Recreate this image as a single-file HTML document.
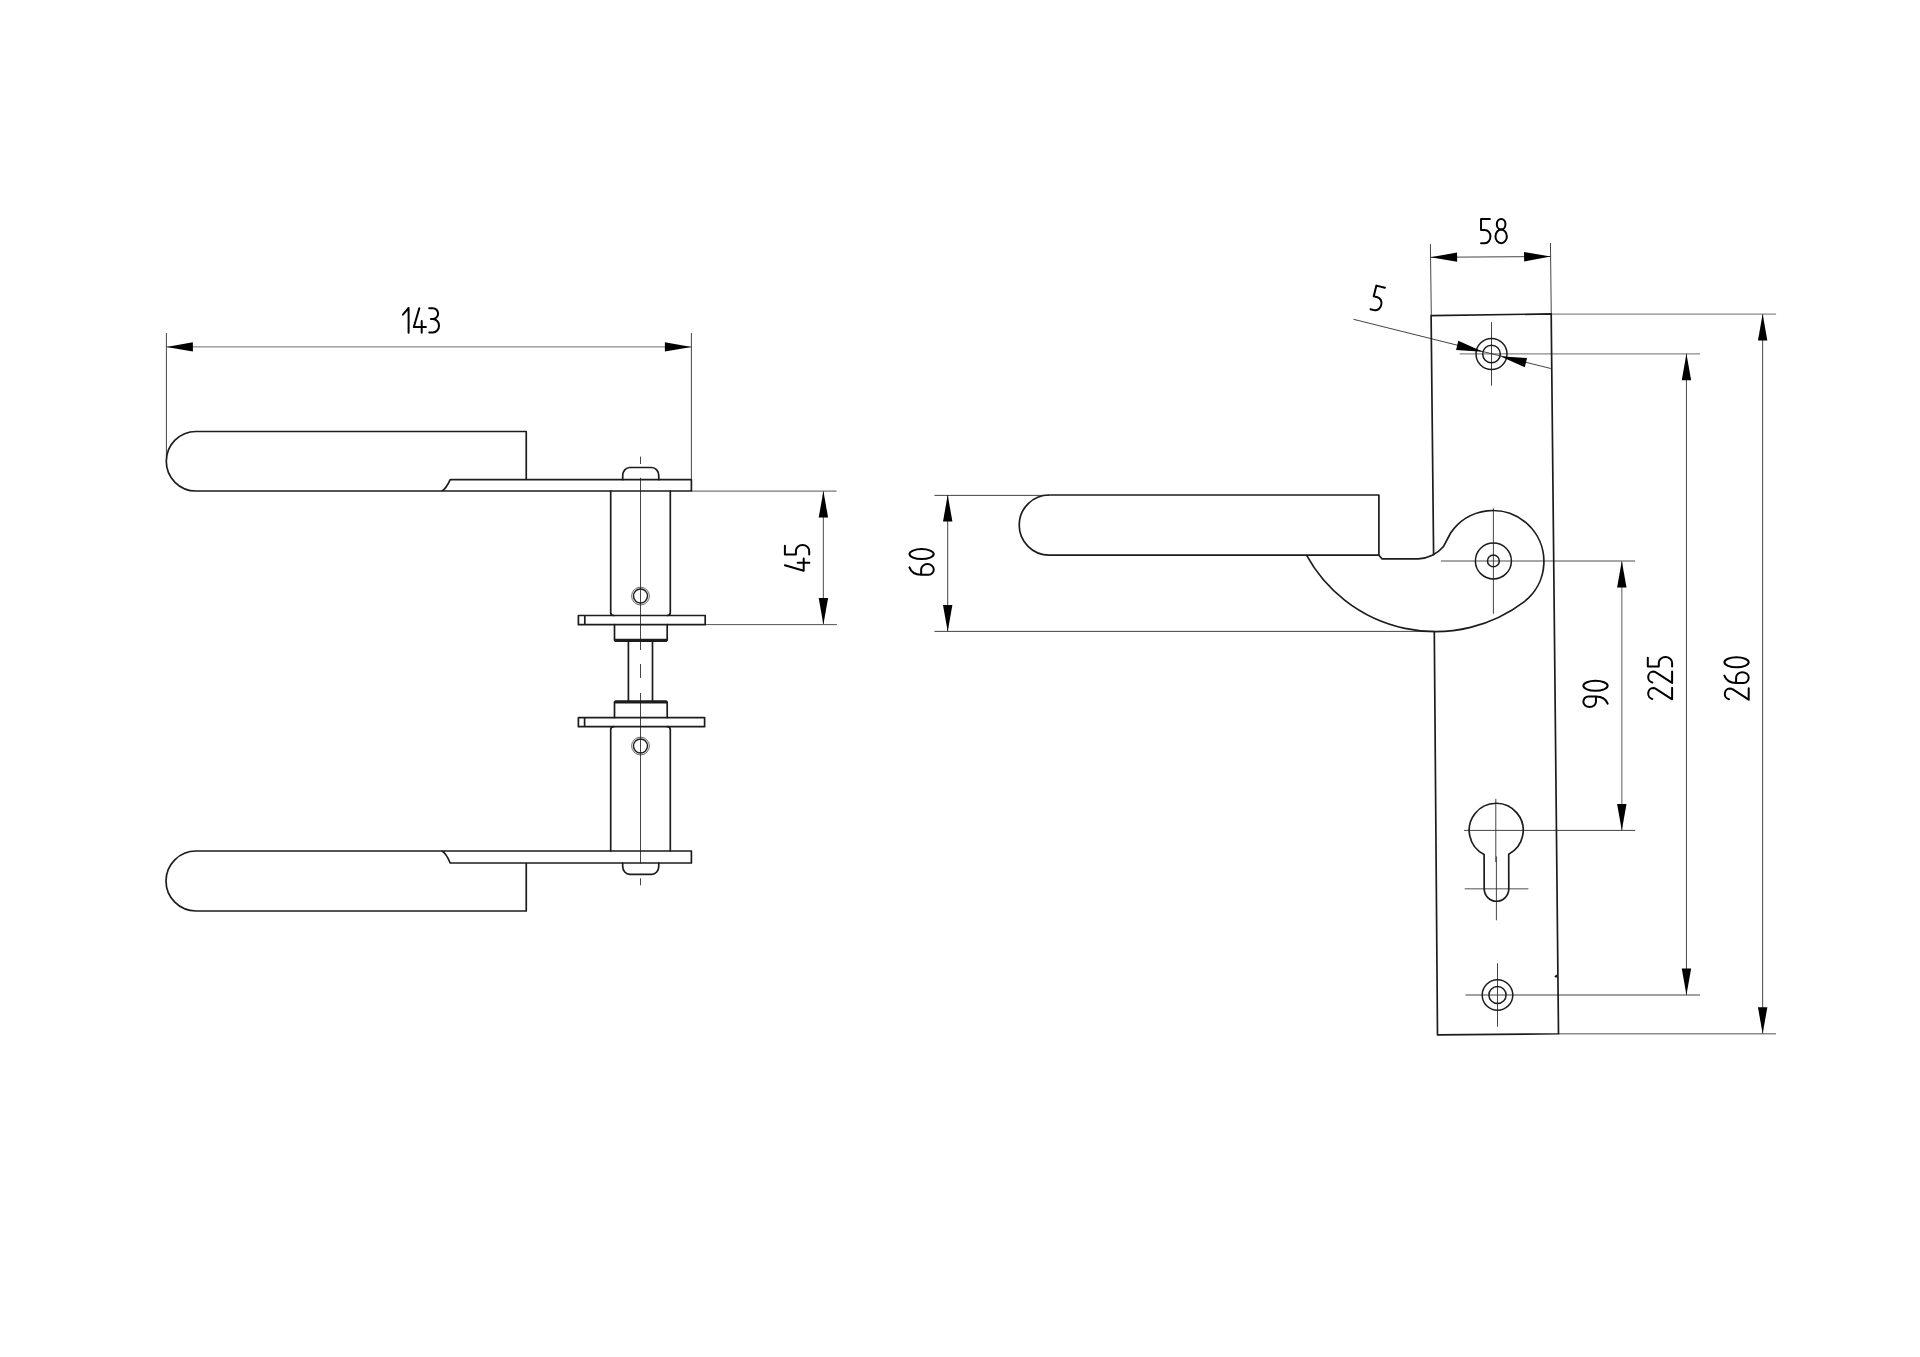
<!DOCTYPE html>
<html><head><meta charset="utf-8"><title>drawing</title>
<style>html,body{margin:0;padding:0;background:#fff;font-family:"Liberation Sans",sans-serif}svg{display:block}</style></head><body>
<svg width="1920" height="1357" viewBox="0 0 1920 1357">
<rect width="1920" height="1357" fill="#fff"/>
<g id="grey" stroke="#8a8a8a" stroke-width="1.4" fill="none">
<path d="M166.4,346.9 H691.4"/>
<path d="M691.4,491.1 H836.7 M705.2,624.6 H836.9" stroke="#555" stroke-width="1"/>
<path d="M1551.2,314.1 H1776.1"/>
<path d="M1459.7,353.9 H1700"/>
<path d="M1440.9,561 H1635.1"/>
<path d="M1464.7,888.75 H1528.4"/>
<path d="M1558.5,1033.75 H1776"/>
<path d="M1621.8,561 V830.4"/>
</g>
<g id="thin" stroke="#303030" stroke-width="0.9" fill="none">
<path d="M166.4,333 V456 M691.4,333 V479.5"/>
<path d="M823.4,491 V624.5" stroke="#6a6a6a" stroke-width="1.2"/>
<path d="M640.5,456.6 V464 M640.5,477.8 V650 M640.5,664 V678 M640.5,693 V863.4 M640.5,878.3 V885.3"/>
<path d="M934.4,495.4 H1049 M934.4,631.4 H1434 M947.7,495 V631.4"/>
<path d="M1430.4,244.1 L1431.3,315.6 M1550.45,243 L1551.25,314 M1430.6,257.3 L1550.6,256.5"/>
<path d="M1353.5,319.3 L1550.8,368.5"/>
<path d="M1491.5,322.1 V385.7"/>
<path d="M1493.4,508.3 V613.75"/>
<path d="M1464.1,830.4 H1635.2 M1495.8,798.8 V862 M1496.4,856.4 V920.3"/>
<path d="M1497.5,963.3 V1026.7 M1465.6,995 H1700"/>
<path d="M1686.45,353.7 V995 M1762.65,314.1 V1033.75" stroke="#484848" stroke-width="1"/>
</g>
<g stroke="#2a2a2a" stroke-width="0.7" fill="none"><circle cx="640.5" cy="596.1" r="8.9"/><circle cx="640.5" cy="746" r="8.9"/></g>
<g id="thick" stroke="#1c1c1c" stroke-width="1.7" fill="none" stroke-linecap="round" stroke-linejoin="round">
<path d="M526.25,479.7 V431.5 H196 A29.75,29.75 0 0 0 196,491 H691.4 V479.7 H450.2 Q446,489 441.9,491"/>
<path d="M622.7,479.7 V475.5 A7,8 0 0 1 629.7,467.5 H651.75 A7,8 0 0 1 658.75,475.5 V479.7"/>
<path d="M610.7,491 V612.5 Q610.7,615.5 613.7,615.5 M667.3,615.5 Q670.3,615.5 670.3,612.5 V491"/>
<path d="M578.4,615.5 H705.2 V624.7 H578.4 Z M584.8,615.5 V624.7"/>
<path d="M614.5,624.7 V640.1 L615.5,641.1 H666.2 L667.2,640.1 V624.7 M614.5,639.6 H667.2"/>
<path d="M628.4,641.1 V701 M652.5,641.1 V701"/>
<path d="M614.5,717.6 V702 L615.5,701 H666.2 L667.2,702 V717.6 M614.5,702.6 H667.2"/>
<path d="M578.4,717.6 H704.6 V726.7 H578.4 Z M584.6,717.6 V726.7"/>
<path d="M610.7,851 V729.7 Q610.7,726.7 613.7,726.7 M667.3,726.7 Q670.3,726.7 670.3,729.7 V851"/>
<path d="M526.25,863 V911 H196 A30,30 0 0 1 196,851 H691.4 V863 H450.2 Q446,853 441.9,851"/>
<path d="M622.7,863 V866.4 A7,8 0 0 0 629.7,874.4 H651.75 A7,8 0 0 0 658.75,866.4 V863"/>
</g>
<g stroke="#1c1c1c" stroke-width="1.4" fill="none"><circle cx="640.5" cy="596" r="7"/><circle cx="640.5" cy="746" r="7"/></g>
<g id="thickR" stroke="#1c1c1c" stroke-width="1.7" fill="none" stroke-linecap="round" stroke-linejoin="round">
<path d="M1433.6,554.7 L1431.1,315.6 L1551.2,313.9 L1558.5,1033.75 L1437.5,1034.8 L1434.3,631.7"/>
<path d="M1378.9,555.2 H1049.3 A30.1,30.1 0 0 1 1049.3,495 H1378.9 V555.2 L1382.1,558.9 H1418.1 C1428,558.9 1437.5,553.5 1443.3,546.8 L1450.6,533 A51,51 0 1 1 1524.4,601.6 A146.93,146.93 0 0 1 1306.5,555.2"/>
<path d="M1484.1,854.4 A27,27 0 1 1 1508.7,854.2 L1508.8,888.75 A12.3,12.5 0 0 1 1484.2,888.75 Z"/>
</g>
<g stroke="#1c1c1c" stroke-width="1.5" fill="none">
<circle cx="1491.5" cy="354" r="15.5"/><circle cx="1491.5" cy="354" r="8.8"/>
<circle cx="1493.4" cy="560.9" r="18"/><circle cx="1493.4" cy="560.9" r="5.9"/>
<circle cx="1497.5" cy="995" r="15.3"/><circle cx="1497.5" cy="995" r="8.6"/>
<path d="M1554.8,976.9 L1556.3,975.8 V977.5"/>
</g>
<path transform="translate(166.4,346.9) rotate(0)" d="M0,0 L26.5,-4.7 L26.5,4.7 Z" fill="#000"/>
<path transform="translate(691.4,346.9) rotate(180)" d="M0,0 L26.5,-4.7 L26.5,4.7 Z" fill="#000"/>
<path transform="translate(823.4,491.1) rotate(90)" d="M0,0 L26.5,-4.7 L26.5,4.7 Z" fill="#000"/>
<path transform="translate(823.4,624.5) rotate(-90)" d="M0,0 L26.5,-4.7 L26.5,4.7 Z" fill="#000"/>
<path transform="translate(947.7,495) rotate(90)" d="M0,0 L26.5,-4.7 L26.5,4.7 Z" fill="#000"/>
<path transform="translate(947.7,631.4) rotate(-90)" d="M0,0 L26.5,-4.7 L26.5,4.7 Z" fill="#000"/>
<path transform="translate(1430.6,257.3) rotate(-0.4)" d="M0,0 L26.5,-4.7 L26.5,4.7 Z" fill="#000"/>
<path transform="translate(1550.6,256.5) rotate(179.6)" d="M0,0 L26.5,-4.7 L26.5,4.7 Z" fill="#000"/>
<path transform="translate(1482.9,351.8) rotate(194)" d="M0,0 L26.5,-4.7 L26.5,4.7 Z" fill="#000"/>
<path transform="translate(1500.2,356.2) rotate(14)" d="M0,0 L26.5,-4.7 L26.5,4.7 Z" fill="#000"/>
<path transform="translate(1621.8,561) rotate(90)" d="M0,0 L26.5,-4.7 L26.5,4.7 Z" fill="#000"/>
<path transform="translate(1621.8,830.4) rotate(-90)" d="M0,0 L26.5,-4.7 L26.5,4.7 Z" fill="#000"/>
<path transform="translate(1686.45,353.7) rotate(90)" d="M0,0 L26.5,-4.7 L26.5,4.7 Z" fill="#000"/>
<path transform="translate(1686.45,995) rotate(-90)" d="M0,0 L26.5,-4.7 L26.5,4.7 Z" fill="#000"/>
<path transform="translate(1762.65,314.1) rotate(90)" d="M0,0 L26.5,-4.7 L26.5,4.7 Z" fill="#000"/>
<path transform="translate(1762.65,1033.75) rotate(-90)" d="M0,0 L26.5,-4.7 L26.5,4.7 Z" fill="#000"/>
<g id="txt" stroke="#000" stroke-width="2" fill="none" stroke-linecap="round" stroke-linejoin="round">
<g transform="translate(402.9,308.2) rotate(0)"><path d="M0,6.5 L5.7,-0.2 L5.7,24.5"/></g>
<g transform="translate(413.8,308.2) rotate(0)"><path d="M5.5,0 L0,18.8 L12.1,18.8 M7.9,12.7 L7.9,24.5"/></g>
<g transform="translate(429.2,308.2) rotate(0)"><path d="M0,0 L3.6,0 A5.3,5.4 0 0 1 3.6,10.8 L1.7,10.8 M3.6,10.8 A6.2,6.75 0 0 1 3.6,24.3 L0,24.3"/></g>
<g transform="translate(1481.05,218.9) rotate(0)"><path d="M8.8,0 L0,0 L0,11 L3.8,11 A5.6,6.65 0 0 1 3.8,24.3 L0,24.3"/></g>
<g transform="translate(1495.45,218.9) rotate(0)"><ellipse cx="5.7" cy="5.3" rx="4.3" ry="5.3"/><ellipse cx="5.7" cy="17.5" rx="5.7" ry="6.8"/></g>
<g transform="translate(1376.4,285.6) rotate(14)"><path d="M8.8,0 L0,0 L0,11 L3.8,11 A5.6,6.65 0 0 1 3.8,24.3 L0,24.3"/></g>
<g transform="translate(784.9,570.7) rotate(-90)"><path d="M5.5,0 L0,18.8 L12.1,18.8 M7.9,12.7 L7.9,24.5"/></g>
<g transform="translate(784.9,554.5) rotate(-90)"><path d="M8.8,0 L0,0 L0,11 L3.8,11 A5.6,6.65 0 0 1 3.8,24.3 L0,24.3"/></g>
<g transform="translate(909.45,574.7) rotate(-90)"><path d="M7.3,0 C3,1.5 0,6 0,11.7 L0,19.3 A5.3,5 0 0 0 5.3,24.3 A5.3,6.3 0 0 0 10.6,18 A5.3,6.3 0 0 0 5.3,11.7 L0,11.7"/></g>
<g transform="translate(909.45,559.1) rotate(-90)"><ellipse cx="5" cy="12.15" rx="5" ry="12.15"/></g>
<g transform="translate(1583.35,707) rotate(-90)"><path transform="rotate(180 5.3 12.15)" d="M7.3,0 C3,1.5 0,6 0,11.7 L0,19.3 A5.3,5 0 0 0 5.3,24.3 A5.3,6.3 0 0 0 10.6,18 A5.3,6.3 0 0 0 5.3,11.7 L0,11.7"/></g>
<g transform="translate(1583.35,690.8) rotate(-90)"><ellipse cx="5" cy="12.15" rx="5" ry="12.15"/></g>
<g transform="translate(1647.8,699.3) rotate(-90)"><path d="M0.4,4.6 A5.5,5.2 0 0 1 11.3,5.4 C11.3,6.6 11,7.4 10.5,8.1 L0,24.3 L11.5,24.3"/></g>
<g transform="translate(1647.8,682.9) rotate(-90)"><path d="M0.4,4.6 A5.5,5.2 0 0 1 11.3,5.4 C11.3,6.6 11,7.4 10.5,8.1 L0,24.3 L11.5,24.3"/></g>
<g transform="translate(1647.8,666.5) rotate(-90)"><path d="M8.8,0 L0,0 L0,11 L3.8,11 A5.6,6.65 0 0 1 3.8,24.3 L0,24.3"/></g>
<g transform="translate(1724.4,699.7) rotate(-90)"><path d="M0.4,4.6 A5.5,5.2 0 0 1 11.3,5.4 C11.3,6.6 11,7.4 10.5,8.1 L0,24.3 L11.5,24.3"/></g>
<g transform="translate(1724.4,682.9) rotate(-90)"><path d="M7.3,0 C3,1.5 0,6 0,11.7 L0,19.3 A5.3,5 0 0 0 5.3,24.3 A5.3,6.3 0 0 0 10.6,18 A5.3,6.3 0 0 0 5.3,11.7 L0,11.7"/></g>
<g transform="translate(1724.4,667.3) rotate(-90)"><ellipse cx="5" cy="12.15" rx="5" ry="12.15"/></g>
</g>
</svg></body></html>
